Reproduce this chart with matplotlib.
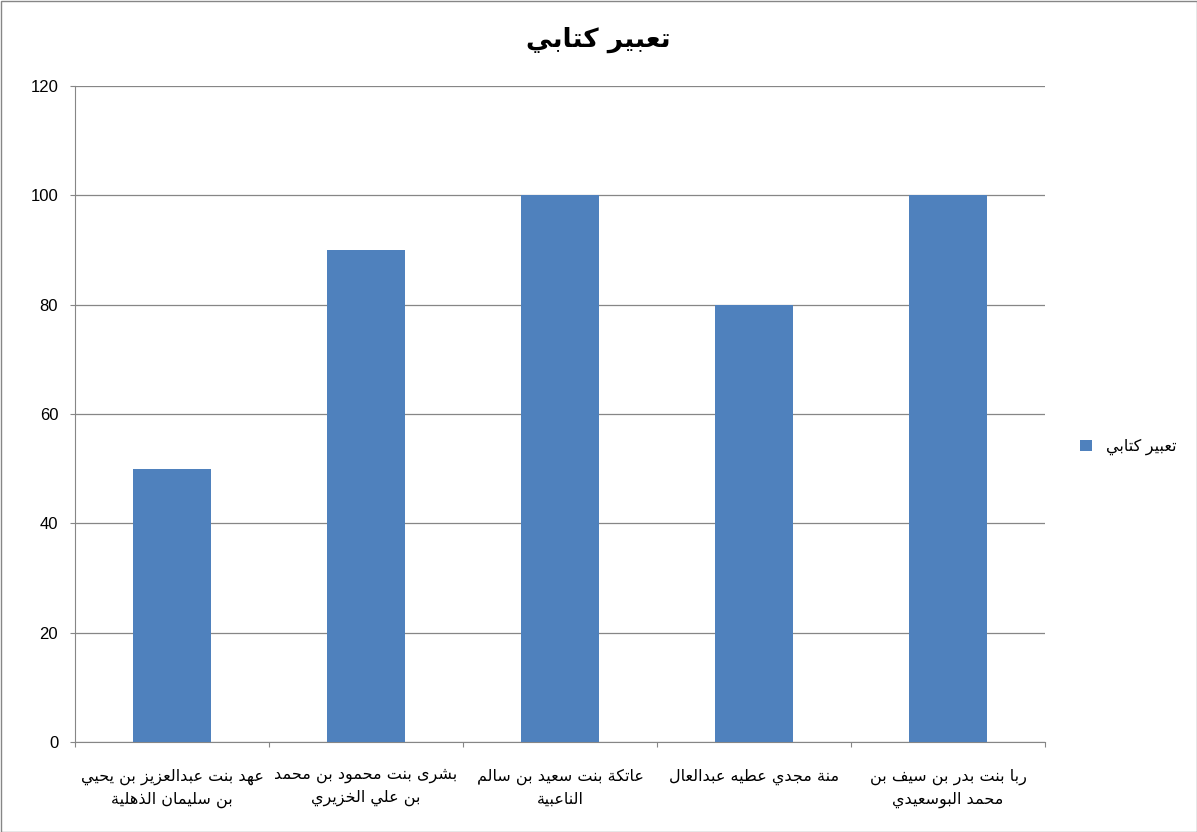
import matplotlib
matplotlib.use("Agg")
import matplotlib.pyplot as plt
from matplotlib.patches import Rectangle

# --- data -------------------------------------------------------------
title = "تعبير كتابي"
series_name = "تعبير كتابي"
students = [
    "عهد بنت عبدالعزيز بن يحيي\nبن سليمان الذهلية",
    "بشرى بنت محمود بن محمد\nبن علي الخزيري",
    "عاتكة بنت سعيد بن سالم\nالناعبية",
    "منة مجدي عطيه عبدالعال",
    "ربا بنت بدر بن سيف بن\nمحمد البوسعيدي",
]
scores = [50, 90, 100, 80, 100]
y_ticks = [0, 20, 40, 60, 80, 100, 120]

# --- minimal arabic shaping (matplotlib has no bidi / shaping) ---------
FORMS = {
    "ا": (0xFE8D, 0xFE8E, None, None), "ب": (0xFE8F, 0xFE90, 0xFE91, 0xFE92),
    "ة": (0xFE93, 0xFE94, None, None), "ت": (0xFE95, 0xFE96, 0xFE97, 0xFE98),
    "ث": (0xFE99, 0xFE9A, 0xFE9B, 0xFE9C), "ج": (0xFE9D, 0xFE9E, 0xFE9F, 0xFEA0),
    "ح": (0xFEA1, 0xFEA2, 0xFEA3, 0xFEA4), "خ": (0xFEA5, 0xFEA6, 0xFEA7, 0xFEA8),
    "د": (0xFEA9, 0xFEAA, None, None), "ذ": (0xFEAB, 0xFEAC, None, None),
    "ر": (0xFEAD, 0xFEAE, None, None), "ز": (0xFEAF, 0xFEB0, None, None),
    "س": (0xFEB1, 0xFEB2, 0xFEB3, 0xFEB4), "ش": (0xFEB5, 0xFEB6, 0xFEB7, 0xFEB8),
    "ص": (0xFEB9, 0xFEBA, 0xFEBB, 0xFEBC), "ض": (0xFEBD, 0xFEBE, 0xFEBF, 0xFEC0),
    "ط": (0xFEC1, 0xFEC2, 0xFEC3, 0xFEC4), "ظ": (0xFEC5, 0xFEC6, 0xFEC7, 0xFEC8),
    "ع": (0xFEC9, 0xFECA, 0xFECB, 0xFECC), "غ": (0xFECD, 0xFECE, 0xFECF, 0xFED0),
    "ف": (0xFED1, 0xFED2, 0xFED3, 0xFED4), "ق": (0xFED5, 0xFED6, 0xFED7, 0xFED8),
    "ك": (0xFED9, 0xFEDA, 0xFEDB, 0xFEDC), "ل": (0xFEDD, 0xFEDE, 0xFEDF, 0xFEE0),
    "م": (0xFEE1, 0xFEE2, 0xFEE3, 0xFEE4), "ن": (0xFEE5, 0xFEE6, 0xFEE7, 0xFEE8),
    "ه": (0xFEE9, 0xFEEA, 0xFEEB, 0xFEEC), "و": (0xFEED, 0xFEEE, None, None),
    "ى": (0xFEEF, 0xFEF0, None, None), "ي": (0xFEF1, 0xFEF2, 0xFEF3, 0xFEF4),
    "ئ": (0xFE89, 0xFE8A, 0xFE8B, 0xFE8C),
}


def shape_line(s):
    out = []
    for i, ch in enumerate(s):
        f = FORMS.get(ch)
        if f is None:
            out.append(ch)
            continue
        prev = s[i - 1] if i > 0 else ""
        nxt = s[i + 1] if i + 1 < len(s) else ""
        joins_prev = prev in FORMS and FORMS[prev][2] is not None
        joins_next = f[2] is not None and nxt in FORMS
        if joins_prev and joins_next:
            code = f[3]
        elif joins_prev:
            code = f[1]
        elif joins_next:
            code = f[2]
        else:
            code = f[0]
        out.append(chr(code))
    return "".join(reversed(out))


def ar(s):
    return "\n".join(shape_line(line) for line in s.split("\n"))


# --- plot -------------------------------------------------------------
plt.rcParams["font.family"] = ["Liberation Sans", "DejaVu Sans"]

fig = plt.figure(figsize=(11.97, 8.32), dpi=100)
ax = fig.add_axes([75 / 1197, 1 - 742 / 832, (1045 - 75) / 1197, (742 - 86) / 832])

x = list(range(len(students)))
bars = ax.bar(x, scores, width=0.4, color="#4F81BD", zorder=3, label=ar(series_name))

ax.set_xlim(-0.5, len(students) - 0.5)
ax.set_ylim(0, 120)
ax.set_yticks(y_ticks)
ax.yaxis.grid(True, color="#868686", linewidth=0.9, zorder=0)
ax.tick_params(axis="y", labelsize=12, length=3.6, color="#868686", direction="out", pad=8.5)

ax.set_xticks([i - 0.5 for i in range(len(students) + 1)])
ax.set_xticklabels([])
ax.tick_params(axis="x", which="major", length=3.6, color="#868686", direction="out")
ax.set_xticks(x, minor=True)
ax.set_xticklabels([ar(s) for s in students], minor=True, fontsize=11.5,
                   family=["DejaVu Sans"], linespacing=1.55)
ax.tick_params(axis="x", which="minor", length=0, pad=19)

for side in ["top", "right"]:
    ax.spines[side].set_visible(False)
for side in ["left", "bottom"]:
    ax.spines[side].set_color("#868686")

fig.text(0.5, 1 - 40 / 832, ar(title), ha="center", va="center",
         fontsize=19, fontweight="bold", family=["DejaVu Sans"])

ax.legend(loc="center left", bbox_to_anchor=(1066 / 1197, 1 - 447 / 832), bbox_transform=fig.transFigure,
          frameon=False, handlelength=0.7, handleheight=0.7, handletextpad=0.9, fontsize=11.5)

fig.patches.append(Rectangle((0.5 / 1197, 0.5 / 832), 1 - 1 / 1197, 1 - 1 / 832,
                             transform=fig.transFigure, fill=False, edgecolor="#868686", linewidth=1))

fig.savefig("out.png", dpi=100)
